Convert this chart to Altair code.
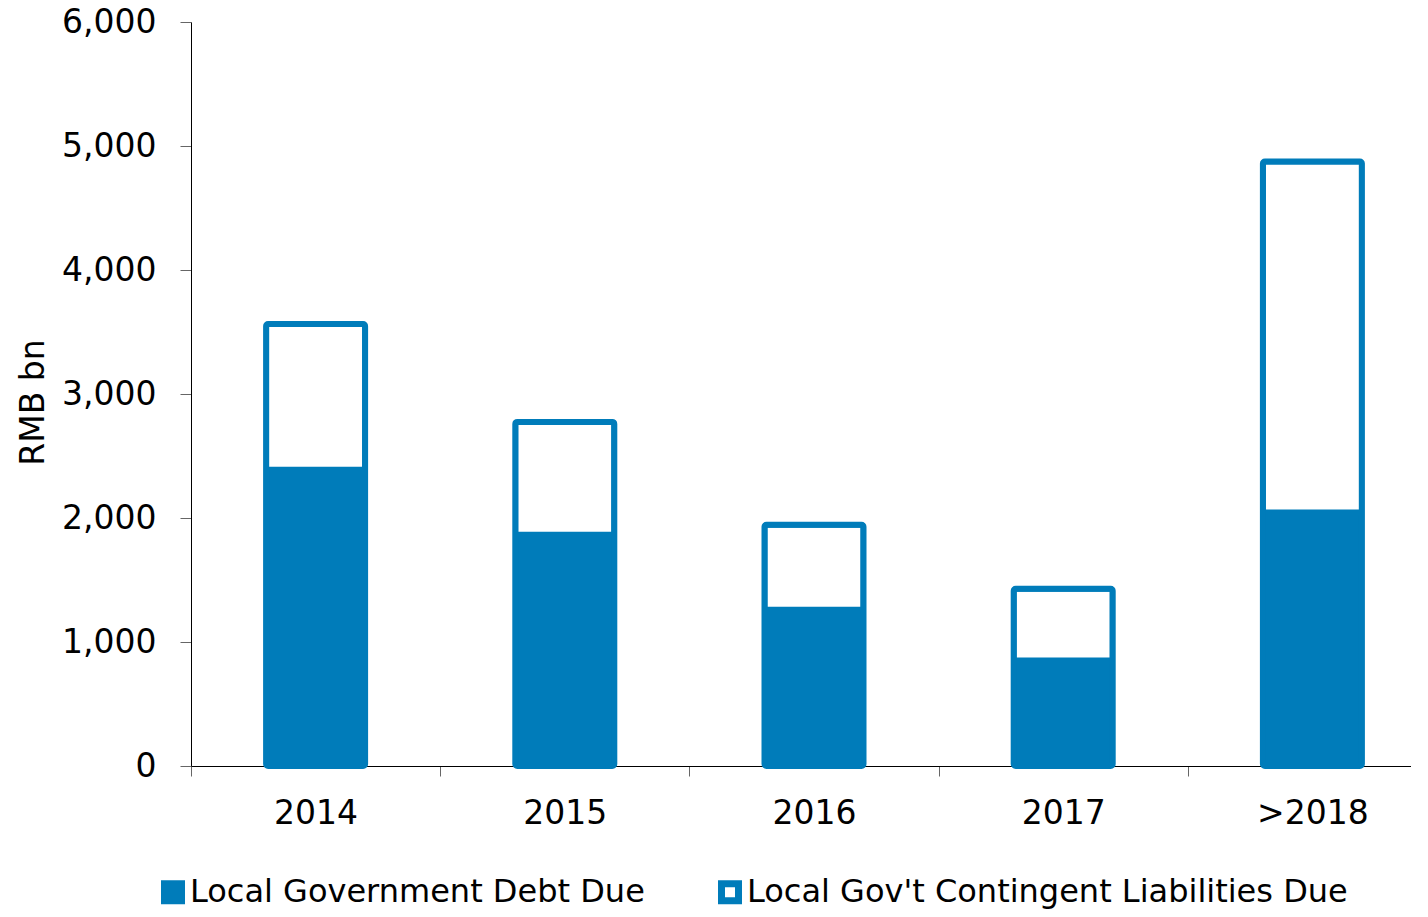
import altair as alt
import pandas as pd

years = ["2014", "2015", "2016", "2017", ">2018"]
debt_due = [2390, 1865, 1260, 850, 2045]
contingent_due = [1175, 910, 685, 580, 2830]
series = ["Local Government Debt Due", "Local Gov't Contingent Liabilities Due"]
y_ticks = [0, 1000, 2000, 3000, 4000, 5000, 6000]

BLUE = "#007CBA"
FONT = "DejaVu Sans"

rows = []
for i, y in enumerate(years):
    rows.append({"year": y, "series": series[0], "value": debt_due[i], "ord": 0})
    rows.append({"year": y, "series": series[1], "value": contingent_due[i], "ord": 1})
df = pd.DataFrame(rows)

chart = alt.Chart(df).mark_bar(
    size=99, stroke=BLUE, strokeWidth=6, cornerRadius=2
).encode(
    x=alt.X("year:N", sort=years, title=None,
            scale=alt.Scale(paddingInner=0, paddingOuter=0),
            axis=alt.Axis(labelAngle=0, tickBand="extent", tickSize=10,
                          labelPadding=21, labelFontSize=33, labelFont=FONT,
                          labelColor="black", domainColor="black", tickColor="#666",
                          domainWidth=1, grid=False)),
    y=alt.Y("value:Q", stack="zero", title="RMB bn",
            scale=alt.Scale(domain=[0, 6000], nice=False),
            axis=alt.Axis(values=y_ticks, format=",d", tickSize=11, labelPadding=24,
                          labelFontSize=33, labelFont=FONT, labelColor="black",
                          domainColor="black", tickColor="#666", grid=False,
                          titleFont=FONT, titleFontSize=33, titleFontWeight="normal",
                          titleColor="black", titleAngle=270, titleBaseline="bottom",
                          titleAlign="center", titleX=-141, titleY=380)),
    fill=alt.Fill("series:N", sort=series,
                  scale=alt.Scale(domain=series, range=[BLUE, "white"]),
                  legend=alt.Legend(title=None, orient="none", direction="horizontal",
                                    legendX=-34, legendY=854, symbolType="square",
                                    symbolSize=289, symbolStrokeColor=BLUE,
                                    symbolStrokeWidth=7, labelFont=FONT,
                                    labelFontSize=32, labelColor="black",
                                    labelLimit=0, labelOffset=1, columnPadding=62)),
    order=alt.Order("ord:Q"),
).properties(
    width=1246, height=744,
    autosize=alt.AutoSizeParams(type="none"),
    padding={"left": 183, "top": 14, "right": -26, "bottom": 143},
).configure_view(stroke=None)

chart.save("out.html", embed_options={"renderer": "svg", "actions": False})
